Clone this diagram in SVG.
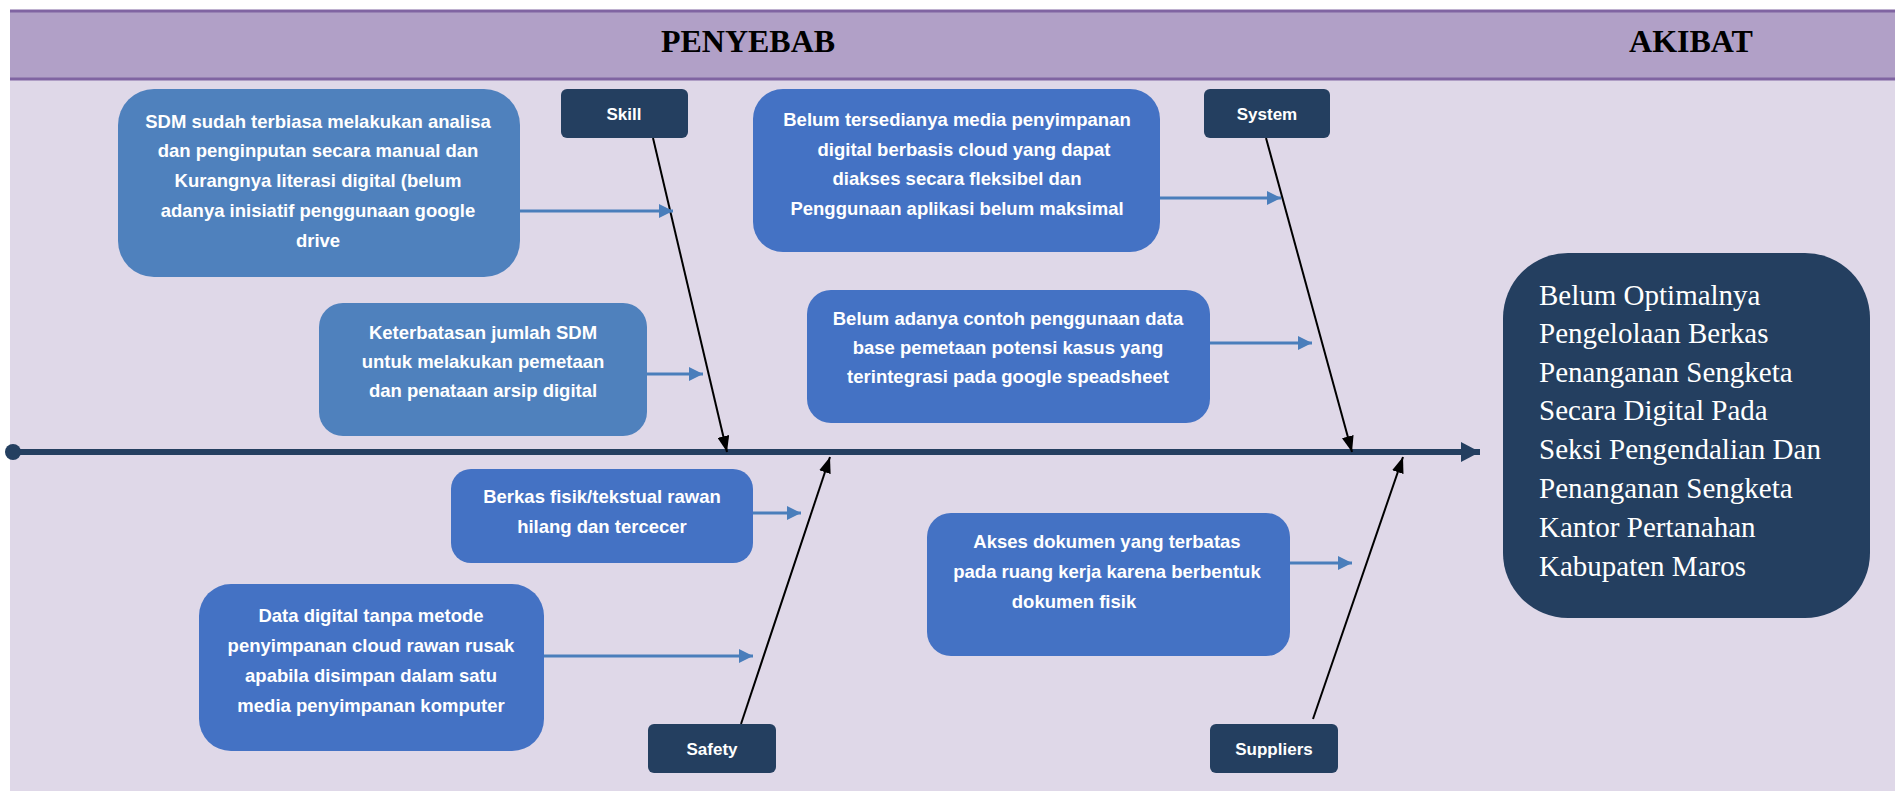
<svg xmlns="http://www.w3.org/2000/svg" width="1895" height="791" viewBox="0 0 1895 791">
<style>
.cause{font-family:"Liberation Sans",Arial,sans-serif;font-weight:bold;font-size:18.5px;fill:#fff;text-anchor:middle}
.cat{font-family:"Liberation Sans",Arial,sans-serif;font-weight:bold;font-size:17px;fill:#fff;text-anchor:middle}
.hdr{font-family:"Liberation Serif","Times New Roman",serif;font-weight:bold;font-size:32px;fill:#000;text-anchor:middle}
.eff{font-family:"Liberation Serif","Times New Roman",serif;font-size:29px;fill:#fff}
.b1{fill:#4F81BD}
.b2{fill:#4472C4}
.nav{fill:#243F60}
.ba{stroke:#4A7EBB;stroke-width:3;fill:none}
.bk{stroke:#000;stroke-width:2;fill:none}
</style>
<defs>
<marker id="ab" markerWidth="14" markerHeight="14" refX="14" refY="7" orient="auto" markerUnits="userSpaceOnUse"><path d="M0,0 L14,7 L0,14 Z" fill="#4A7EBB"/></marker>
<marker id="ak" markerWidth="16" markerHeight="12" refX="16" refY="6" orient="auto" markerUnits="userSpaceOnUse"><path d="M0,0 L16,6 L0,12 Z" fill="#000"/></marker>
<marker id="as" markerWidth="20" markerHeight="20" refX="19" refY="10" orient="auto" markerUnits="userSpaceOnUse"><path d="M0,0 L19,10 L0,20 Z" fill="#243F60"/></marker>
</defs>
<rect x="0" y="0" width="1895" height="791" fill="#fff"/>
<rect x="10" y="80" width="1885" height="711" fill="#DFD8E8"/>
<g id="header">
<rect x="10" y="10" width="1885" height="70" fill="#B1A0C7"/>
<line x1="10" y1="11" x2="1895" y2="11" stroke="#8064A2" stroke-width="3"/>
<line x1="10" y1="79" x2="1895" y2="79" stroke="#8064A2" stroke-width="3"/>
<text class="hdr" x="748" y="52">PENYEBAB</text>
<text class="hdr" x="1691" y="52">AKIBAT</text>
</g>
<g id="connectors">
<line x1="13" y1="452" x2="1480" y2="452" stroke="#243F60" stroke-width="6" marker-end="url(#as)"/>
<circle cx="13" cy="452" r="8" fill="#243F60"/>
<line class="bk" x1="653" y1="138" x2="727" y2="452" marker-end="url(#ak)"/>
<line class="bk" x1="1266" y1="138" x2="1352" y2="452" marker-end="url(#ak)"/>
<line class="bk" x1="741" y1="724" x2="830" y2="457" marker-end="url(#ak)"/>
<line class="bk" x1="1313" y1="719" x2="1403" y2="457" marker-end="url(#ak)"/>
<line class="ba" x1="520" y1="211" x2="673" y2="211" marker-end="url(#ab)"/>
<line class="ba" x1="647" y1="374" x2="703" y2="374" marker-end="url(#ab)"/>
<line class="ba" x1="1134" y1="198" x2="1281" y2="198" marker-end="url(#ab)"/>
<line class="ba" x1="1210" y1="343" x2="1312" y2="343" marker-end="url(#ab)"/>
<line class="ba" x1="753" y1="513" x2="801" y2="513" marker-end="url(#ab)"/>
<line class="ba" x1="544" y1="656" x2="753" y2="656" marker-end="url(#ab)"/>
<line class="ba" x1="1290" y1="563" x2="1352" y2="563" marker-end="url(#ab)"/>
</g>
<g id="sdm">
<rect class="b1" x="118" y="89" width="402" height="188" rx="36"/>
<text class="cause" x="318" y="128">SDM sudah terbiasa melakukan analisa</text>
<text class="cause" x="318" y="157">dan penginputan secara manual dan</text>
<text class="cause" x="318" y="187">Kurangnya literasi digital (belum</text>
<text class="cause" x="318" y="217">adanya inisiatif penggunaan google</text>
<text class="cause" x="318" y="247">drive</text>
</g>
<g id="keterbatasan">
<rect class="b1" x="319" y="303" width="328" height="133" rx="24"/>
<text class="cause" x="483" y="339">Keterbatasan jumlah SDM</text>
<text class="cause" x="483" y="368">untuk melakukan pemetaan</text>
<text class="cause" x="483" y="397">dan penataan arsip digital</text>
</g>
<g id="media">
<rect class="b2" x="753" y="89" width="407" height="163" rx="30"/>
<text class="cause" x="957" y="126">Belum tersedianya media penyimpanan</text>
<text class="cause" x="964" y="156">digital berbasis cloud yang dapat</text>
<text class="cause" x="957" y="185">diakses secara fleksibel dan</text>
<text class="cause" x="957" y="215">Penggunaan aplikasi belum maksimal</text>
</g>
<g id="contoh">
<rect class="b2" x="807" y="290" width="403" height="133" rx="24"/>
<text class="cause" x="1008" y="325">Belum adanya contoh penggunaan data</text>
<text class="cause" x="1008" y="354">base pemetaan potensi kasus yang</text>
<text class="cause" x="1008" y="383">terintegrasi pada google speadsheet</text>
</g>
<g id="berkas">
<rect class="b2" x="451" y="469" width="302" height="94" rx="20"/>
<text class="cause" x="602" y="503">Berkas fisik/tekstual rawan</text>
<text class="cause" x="602" y="533">hilang dan tercecer</text>
</g>
<g id="datadigital">
<rect class="b2" x="199" y="584" width="345" height="167" rx="32"/>
<text class="cause" x="371" y="622">Data digital tanpa metode</text>
<text class="cause" x="371" y="652">penyimpanan cloud rawan rusak</text>
<text class="cause" x="371" y="682">apabila disimpan dalam satu</text>
<text class="cause" x="371" y="712">media penyimpanan komputer</text>
</g>
<g id="akses">
<rect class="b2" x="927" y="513" width="363" height="143" rx="24"/>
<text class="cause" x="1107" y="548">Akses dokumen yang terbatas</text>
<text class="cause" x="1107" y="578">pada ruang kerja karena berbentuk</text>
<text class="cause" x="1074" y="608">dokumen fisik</text>
</g>
<g id="skill">
<rect class="nav" x="561" y="89" width="127" height="49" rx="6"/>
<text class="cat" x="624" y="120">Skill</text>
</g>
<g id="system">
<rect class="nav" x="1204" y="89" width="126" height="49" rx="6"/>
<text class="cat" x="1267" y="120">System</text>
</g>
<g id="safety">
<rect class="nav" x="648" y="724" width="128" height="49" rx="6"/>
<text class="cat" x="712" y="755">Safety</text>
</g>
<g id="suppliers">
<rect class="nav" x="1210" y="724" width="128" height="49" rx="6"/>
<text class="cat" x="1274" y="755">Suppliers</text>
</g>
<g id="akibat">
<rect class="nav" x="1503" y="253" width="367" height="365" rx="65"/>
<text class="eff" x="1539" y="305">Belum Optimalnya</text>
<text class="eff" x="1539" y="343">Pengelolaan Berkas</text>
<text class="eff" x="1539" y="382">Penanganan Sengketa</text>
<text class="eff" x="1539" y="420">Secara Digital Pada</text>
<text class="eff" x="1539" y="459">Seksi Pengendalian Dan</text>
<text class="eff" x="1539" y="498">Penanganan Sengketa</text>
<text class="eff" x="1539" y="537">Kantor Pertanahan</text>
<text class="eff" x="1539" y="576">Kabupaten Maros</text>
</g>
</svg>
